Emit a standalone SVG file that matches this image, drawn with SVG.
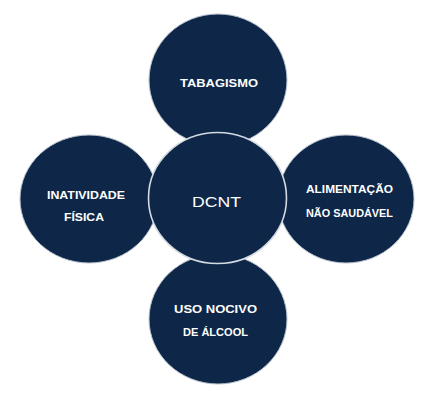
<svg xmlns="http://www.w3.org/2000/svg" width="439" height="400" viewBox="0 0 439 400">
<style>
.c{fill:#0e2748;stroke:#b9c3cf;stroke-width:1;}
.ctr{fill:#0e2748;stroke:#d3dae2;stroke-width:1.6;}
.t{fill:#ffffff;font-family:"Liberation Sans",Arial,sans-serif;font-weight:bold;font-size:10px;text-anchor:middle;}
.tm{fill:#ffffff;font-family:"Liberation Sans",Arial,sans-serif;font-size:15px;text-anchor:middle;}
</style>
<rect width="439" height="400" fill="#ffffff"/>
<g id="tabagismo">
<ellipse class="c" cx="218" cy="80" rx="69" ry="66"/>
<text class="t" x="219" y="87" textLength="78" lengthAdjust="spacingAndGlyphs">TABAGISMO</text>
</g>
<g id="uso-nocivo">
<ellipse class="c" cx="218" cy="319" rx="69" ry="65"/>
<text class="t" x="215.5" y="313" textLength="83" lengthAdjust="spacingAndGlyphs">USO NOCIVO</text>
<text class="t" x="215.5" y="336" textLength="65" lengthAdjust="spacingAndGlyphs">DE ÁLCOOL</text>
</g>
<g id="inatividade">
<ellipse class="c" cx="89" cy="199" rx="69" ry="64"/>
<text class="t" x="86" y="199" textLength="78" lengthAdjust="spacingAndGlyphs">INATIVIDADE</text>
<text class="t" x="84" y="221" textLength="40" lengthAdjust="spacingAndGlyphs">FÍSICA</text>
</g>
<g id="alimentacao">
<ellipse class="c" cx="346" cy="199" rx="68" ry="64"/>
<text class="t" x="349.5" y="193" textLength="87" lengthAdjust="spacingAndGlyphs">ALIMENTAÇÃO</text>
<text class="t" x="349.5" y="217" textLength="87" lengthAdjust="spacingAndGlyphs">NÃO SAUDÁVEL</text>
</g>
<g id="dcnt">
<ellipse class="ctr" cx="217.5" cy="198" rx="69" ry="65.5"/>
<text class="tm" x="216.5" y="207" textLength="49" lengthAdjust="spacingAndGlyphs">DCNT</text>
</g>
<g id="connectors"></g>
</svg>
